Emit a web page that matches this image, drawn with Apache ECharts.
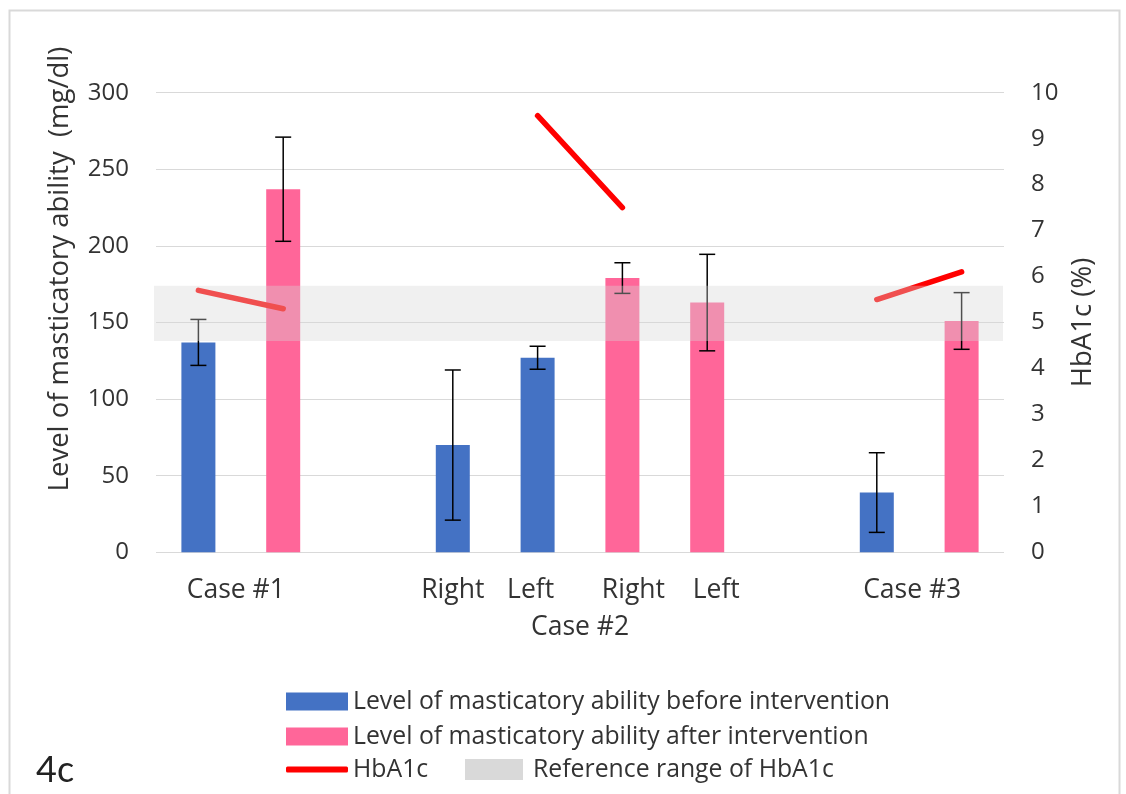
<!DOCTYPE html>
<html><head><meta charset="utf-8">
<script src="https://cdn.jsdelivr.net/npm/echarts@6/dist/echarts.min.js"></script>
<style>html,body{margin:0;padding:0;background:#fff}#c{width:1126px;height:794px}</style>
</head><body><div id="c"></div>
<script>
// ---- data ----
const slotIds = ['s0','s1','s2','s3','s4','s5','s6','s7','s8','s9'];
const slotLabels = ['', '', '', 'Right', 'Left', 'Right', 'Left', '', '', ''];
const groupIds = ['g0','g1','g2','g3','g4'];
const groupLabels = ['Case #1', '', 'Case #2', '', 'Case #3'];
const before    = [137, null, null, 70, 127, null, null, null, 39, null];
const beforeErr = [15,  null, null, 49, 7.5, null, null, null, 26, null];
const after     = [null, 237, null, null, null, 179, 163, null, null, 151];
const afterErr  = [null, 34,  null, null, null, 10,  31.5, null, null, 18.5];
const hba1c     = [5.7, 5.3, null, null, 9.5, 7.5, null, null, 5.5, 6.1];
const refRange  = [4.6, 5.8];
const nameBefore = 'Level of masticatory ability before intervention';
const nameAfter  = 'Level of masticatory ability after intervention';
const nameHb     = 'HbA1c';
const nameRef    = 'Reference range of HbA1c';

// ---- label nudges (style only) ----
const slotShift  = [0, 0, 0, 0, -7, 11, 9, 0, 0, 0];
const groupShift = [-5, 0, 0, 0, -7];
const groupDrop  = [0, 0, 37, 0, 0];

const FONT = 'Open Sans';
const FS_TICK = 24;
const FS_LEG = 24.8;
const FS_CAT = 26.5;
const FS_TITLE = 27.5;
const TXT = '#333333';

function shiftPad(dx, top) {
  return dx >= 0 ? [top || 0, 0, 0, 2 * dx] : [top || 0, -2 * dx, 0, 0];
}
const slotRich = {};
slotShift.forEach((d, i) => { slotRich['s' + i] = {fontFamily: FONT, fontSize: FS_CAT, color: TXT, padding: shiftPad(d)}; });
const groupRich = {};
groupShift.forEach((d, i) => { groupRich['g' + i] = {fontFamily: FONT, fontSize: FS_CAT, color: TXT, padding: shiftPad(d, groupDrop[i])}; });

function errData(vals, errs) {
  const out = [];
  vals.forEach((v, i) => { if (v != null && errs[i] != null) out.push([i, v - errs[i], v + errs[i]]); });
  return out;
}
function renderErr(params, api) {
  const x = api.value(0);
  const pLo = api.coord([x, api.value(1)]);
  const pHi = api.coord([x, api.value(2)]);
  const w = 8;
  const style = {stroke: '#000', lineWidth: 1.5};
  return {type: 'group', children: [
    {type: 'line', shape: {x1: pHi[0], y1: pHi[1], x2: pLo[0], y2: pLo[1]}, style},
    {type: 'line', shape: {x1: pHi[0] - w, y1: pHi[1], x2: pHi[0] + w, y2: pHi[1]}, style},
    {type: 'line', shape: {x1: pLo[0] - w, y1: pLo[1], x2: pLo[0] + w, y2: pLo[1]}, style}
  ]};
}
function renderBand(params, api) {
  const yLo = api.coord([0, api.value(1)])[1];
  const yHi = api.coord([0, api.value(2)])[1];
  const cs = params.coordSys;
  return {type: 'rect', shape: {x: cs.x - 2, y: yHi, width: cs.width + 1, height: yLo - yHi},
          style: {fill: 'rgba(214,214,214,0.37)'}};
}

const chart = echarts.init(document.getElementById('c'), null, {renderer: 'canvas'});
const legendText = {fontFamily: FONT, fontSize: FS_LEG, color: TXT};
chart.setOption({
  animation: false,
  backgroundColor: '#ffffff',
  textStyle: {fontFamily: FONT},
  grid: {left: 156, right: 122, top: 92.7, bottom: 241.7, containLabel: false},
  graphic: [
    {type: 'rect', left: 7, top: 8, shape: {width: 1110, height: 800}, style: {fill: 'none', stroke: '#D9D9D9', lineWidth: 2}, silent: true},
    {type: 'text', left: 36, top: 752, style: {text: '4c', fontFamily: 'Lato', fontSize: 36, fill: '#222'}}
  ],
  legend: [
    {left: 286, top: 689, padding: 0, itemWidth: 62, itemHeight: 18, icon: 'rect', data: [nameBefore], textStyle: legendText, selectedMode: false},
    {left: 286, top: 724, padding: 0, itemWidth: 62, itemHeight: 18, icon: 'rect', data: [nameAfter], textStyle: legendText, selectedMode: false},
    {left: 286, top: 757, padding: 0, itemWidth: 62, itemHeight: 6, icon: 'roundRect', data: [nameHb], textStyle: legendText, selectedMode: false},
    {left: 465, top: 757, padding: 0, itemWidth: 58, itemHeight: 21, icon: 'rect', data: [nameRef], textStyle: Object.assign({}, legendText, {padding: [0, 0, 0, 5]}), selectedMode: false}
  ],
  xAxis: [
    {type: 'category', data: slotIds, position: 'bottom',
     axisLine: {show: false}, axisTick: {show: false}, splitLine: {show: false},
     axisLabel: {interval: 0, margin: 25, formatter: (v, i) => slotLabels[i] ? '{s' + i + '|' + slotLabels[i] + '}' : '', rich: slotRich}},
    {type: 'category', data: groupIds, position: 'bottom',
     axisLine: {show: false}, axisTick: {show: false}, splitLine: {show: false},
     axisLabel: {interval: 0, margin: 25, formatter: (v, i) => groupLabels[i] ? '{g' + i + '|' + groupLabels[i] + '}' : '', rich: groupRich}}
  ],
  yAxis: [
    {type: 'value', min: 0, max: 300, interval: 50, position: 'left',
     name: 'Level of masticatory ability  (mg/dl)', nameLocation: 'middle', nameGap: 82,
     nameTextStyle: {fontFamily: FONT, fontSize: FS_TITLE, color: TXT, padding: [0, 0, 0, 107]},
     axisLine: {show: false}, axisTick: {show: false},
     axisLabel: {margin: 27, fontFamily: FONT, fontSize: FS_TICK, color: TXT},
     splitLine: {lineStyle: {color: '#D9D9D9', width: 1.2}}},
    {type: 'value', min: 0, max: 10, interval: 1, position: 'right',
     name: 'HbA1c (%)', nameLocation: 'middle', nameGap: 62,
     nameTextStyle: {fontFamily: FONT, fontSize: FS_TITLE, color: TXT},
     axisLine: {show: false}, axisTick: {show: false},
     axisLabel: {margin: 27, fontFamily: FONT, fontSize: FS_TICK, color: TXT},
     splitLine: {show: false}}
  ],
  series: [
    {name: nameBefore, type: 'bar', xAxisIndex: 0, yAxisIndex: 0, data: before, barWidth: 34, barGap: '-100%',
     itemStyle: {color: '#4472C4'}, z: 2},
    {name: nameAfter, type: 'bar', xAxisIndex: 0, yAxisIndex: 0, data: after, barWidth: 34, barGap: '-100%',
     itemStyle: {color: '#FF6699'}, z: 2},
    {name: 'errBefore', type: 'custom', xAxisIndex: 0, yAxisIndex: 0, data: errData(before, beforeErr),
     encode: {x: 0, y: [1, 2]}, renderItem: renderErr, z: 5, silent: true},
    {name: 'errAfter', type: 'custom', xAxisIndex: 0, yAxisIndex: 0, data: errData(after, afterErr),
     encode: {x: 0, y: [1, 2]}, renderItem: renderErr, z: 5, silent: true},
    {name: nameHb, type: 'line', xAxisIndex: 0, yAxisIndex: 1, data: hba1c, connectNulls: false,
     symbol: 'none', showSymbol: false, itemStyle: {color: '#FF0000'},
     lineStyle: {color: '#FF0000', width: 5.5, cap: 'round'}, z: 6},
    {name: nameRef, type: 'custom', xAxisIndex: 0, yAxisIndex: 1, data: [[0, refRange[0], refRange[1]]],
     encode: {x: 0, y: [1, 2]}, renderItem: renderBand, itemStyle: {color: '#D9D9D9'}, z: 10, silent: true}
  ]
});
</script>
</body></html>
